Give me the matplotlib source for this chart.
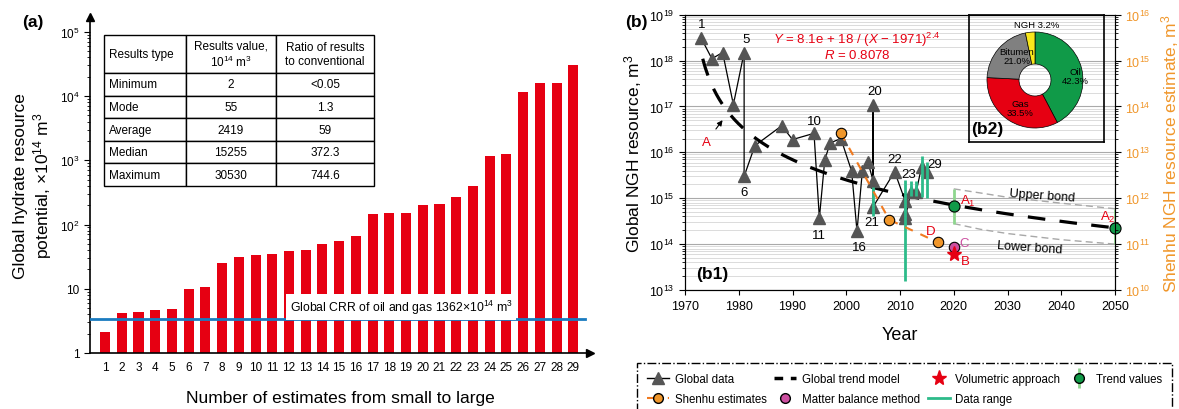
import numpy as np
import matplotlib.pyplot as plt
from matplotlib.lines import Line2D
from matplotlib.ticker import FixedLocator, NullFormatter, LogLocator

plt.rcParams['font.family'] = ['Liberation Sans', 'DejaVu Sans']
plt.rcParams['mathtext.fontset'] = 'custom'
plt.rcParams['mathtext.rm'] = 'Liberation Sans'
plt.rcParams['mathtext.it'] = 'Liberation Sans:italic'
plt.rcParams['mathtext.bf'] = 'Liberation Sans:bold'

# ---------------- data, panel (a)
estimate_no = list(range(1, 30))
estimate_val = [2.1, 4.2, 4.4, 4.7, 4.9, 9.8, 10.5, 25, 31, 34, 35, 39, 40, 50, 56, 67,
                148, 150, 150, 200, 210, 265, 400, 1150, 1230, 11500, 15800, 16000, 30530]
crr_level = 3.4
a_yticks = [1, 10, 1e2, 1e3, 1e4, 1e5]
a_yticklabels = ['1', '10', '$10^2$', '$10^3$', '$10^4$', '$10^5$']
table_head = ['Results type', 'Results value,\n$10^{14}$ m$^3$', 'Ratio of results\nto conventional']
table_type = ['Minimum', 'Mode', 'Average', 'Median', 'Maximum']
table_value = ['2', '55', '2419', '15255', '30530']
table_ratio = ['<0.05', '1.3', '59', '372.3', '744.6']

# ---------------- data, panel (b1)
global_year = [1973, 1975, 1977, 1979, 1981, 1981, 1983, 1988, 1990, 1994, 1995, 1996, 1997,
               1999, 2001, 2002, 2003, 2004, 2005, 2005, 2005, 2009, 2011, 2011, 2011, 2012,
               2013, 2014, 2015]
global_val = [3.1e18, 1.1e18, 1.5e18, 1.1e17, 1.5e18, 3.0e15, 1.4e16, 3.8e16, 1.9e16, 2.6e16,
              3.7e14, 6.8e15, 1.6e16, 2.0e16, 3.9e15, 1.9e14, 4.0e15, 6.3e15, 2.4e15, 1.1e17,
              6.5e14, 3.8e15, 8.5e14, 4.5e14, 3.8e14, 1.35e15, 1.35e15, 4.8e15, 3.8e15]
point_labels = {0: '1', 4: '5', 5: '6', 9: '10', 10: '11', 15: '16', 19: '20', 20: '21',
                21: '22', 22: '23', 28: '29'}
label_pos = {0: (1973.1, 6.3e18), 4: (1981.3, 3.0e18), 5: (1981.0, 1.35e15),
             9: (1994.0, 4.8e16), 10: (1995.0, 1.6e14), 15: (2002.4, 8.5e13),
             19: (2005.3, 2.2e17), 20: (2004.8, 3.1e14), 21: (2009.0, 7.2e15),
             22: (2011.6, 3.4e15), 28: (2016.5, 5.6e15)}

# data range bars (year, low, high)
range_year = [2005, 2011, 2012, 2013, 2014, 2015]
range_low = [4.2e14, 1.6e13, 1.1e15, 1.1e15, 1.05e15, 1.0e15]
range_high = [1.75e15, 2.5e15, 2.4e15, 2.4e15, 8.5e15, 6.2e15]

# trend model Y = a / (X - x0)^p
trend_a = 8.1e18
trend_x0 = 1971
trend_p = 2.4
trend_start, trend_end = 1973.3, 2050

tv_year = [2020, 2050]
tv_val = [6.8e14, 2.3e14]
tv_low = [2.8e14, 1.0e14]
tv_high = [1.6e15, 5.9e14]

bond_year = [2020, 2025, 2030, 2040, 2050]
upper_bond = [1.6e15, 1.3e15, 1.05e15, 7.8e14, 5.9e14]
lower_bond = [2.8e14, 2.1e14, 1.7e14, 1.25e14, 1.0e14]

# Shenhu estimates (right axis)
shenhu_year = [1999, 2008, 2017]
shenhu_val = [2.6e13, 3.4e11, 1.1e11]
matter_year, matter_val = 2020, 8.8e10
vol_year, vol_val = 2020, 6.0e10

# ---------------- data, panel (b2)
pie_names = ['Oil', 'Gas', 'Bitumen', 'NGH']
pie_share = [42.3, 33.5, 21.0, 3.2]

red = '#e60012'
orange = '#f0962a'
teal = '#2dbb8a'
lgreen = '#8ed68e'
green = '#109a48'
magenta = '#cc4fa0'

W, H = 1179, 410
fig = plt.figure(figsize=(W / 100, H / 100), dpi=100)

# =============== panel (a)
ax = fig.add_axes([90 / W, 1 - 354 / H, 500 / W, 336 / H])
ax.bar(estimate_no, estimate_val, width=0.6, color=red, zorder=2)
ax.set_yscale('log')
ax.set_ylim(1, 10 ** 5.23)
ax.set_xlim(0.1, 30)
ax.axhline(crr_level, xmin=0, xmax=0.99, color='#1a7bc0', lw=2, zorder=3)
ax.text(12.05, 5.2, 'Global CRR of oil and gas 1362×10$^{14}$ m$^3$', fontsize=8.8,
        va='center', ha='left', zorder=4,
        bbox=dict(facecolor='white', edgecolor='none', pad=2.5))
for s in ['top', 'right']:
    ax.spines[s].set_visible(False)
ax.spines['left'].set_linewidth(1.2)
ax.spines['bottom'].set_linewidth(1.2)
ax.plot(0, 1, '^k', ms=6, transform=ax.transAxes, clip_on=False)
ax.plot(1, 0, '>k', ms=6, transform=ax.transAxes, clip_on=False)
ax.yaxis.set_major_locator(FixedLocator(a_yticks))
ax.set_yticklabels(a_yticklabels)
ax.yaxis.set_minor_locator(LogLocator(subs=np.arange(2, 10)))
ax.yaxis.set_minor_formatter(NullFormatter())
ax.set_xticks(estimate_no)
ax.tick_params(axis='x', length=0, labelsize=8.5, pad=6)
ax.tick_params(axis='y', which='major', length=4, labelsize=8.5)
ax.tick_params(axis='y', which='minor', length=2)
ax.set_xlabel('Number of estimates from small to large', fontsize=12.5, labelpad=12)
ax.set_ylabel('Global hydrate resource\npotential, ×10$^{14}$ m$^3$', fontsize=12.5, labelpad=4)

cells = [[t, v, r] for t, v, r in zip(table_type, table_value, table_ratio)]
tb = ax.table(cellText=cells, colLabels=table_head, cellLoc='center',
              colWidths=[82, 90, 98], bbox=[14 / 500, (354 - 187) / 336, 270 / 500, 151 / 336])
tb.auto_set_font_size(False)
tb.set_fontsize(8.5)
for (r, c), cell in tb.get_celld().items():
    cell.set_linewidth(1.0)
    cell.set_height(38 if r == 0 else 22.6)
    if c == 0:
        cell._loc = 'left'
        cell.get_text().set_ha('left')
        cell.PAD = 0.06
fig.text(33 / W, 1 - 22 / H, '(a)', fontsize=12.5, fontweight='bold', ha='center', va='center')

# =============== panel (b1)
bx = fig.add_axes([685 / W, 1 - 291 / H, 430 / W, 275.3 / H])
bx.set_yscale('log')
bx.set_ylim(1e13, 1e19)
bx.set_xlim(1970, 2050)
bx.set_xticks(range(1970, 2051, 10))
bx.yaxis.set_major_locator(LogLocator(numticks=10))
bx.yaxis.set_minor_locator(LogLocator(subs=np.arange(2, 10), numticks=20))
bx.yaxis.set_minor_formatter(NullFormatter())
bx.grid(True, axis='y', which='major', color='#aaaaaa', lw=0.8)
bx.grid(True, axis='y', which='minor', color='#d6d6d6', lw=0.6)
bx.set_axisbelow(True)
bx.tick_params(labelsize=9)
bx.tick_params(axis='y', which='major', length=4)
bx.tick_params(axis='y', which='minor', length=2)
bx.set_xlabel('Year', fontsize=13, labelpad=10)
bx.set_ylabel('Global NGH resource, m$^3$', fontsize=12.5, labelpad=4)

ty = np.linspace(trend_start, trend_end, 300)
bx.plot(ty, trend_a / (ty - trend_x0) ** trend_p, color='black', lw=2.3, dashes=(5.5, 4.5), zorder=3)
bx.plot(bond_year, upper_bond, color='#a8a8a8', lw=1, dashes=(5, 3), zorder=2)
bx.plot(bond_year, lower_bond, color='#a8a8a8', lw=1, dashes=(5, 3), zorder=2)
bx.vlines(tv_year, tv_low, tv_high, color=lgreen, lw=2, zorder=3)
bx.plot(global_year, global_val, color='black', lw=0.9, marker='^', ms=8,
        mfc='#555555', mec='#555555', zorder=4)
bx.vlines(range_year, range_low, range_high, color=teal, lw=2, zorder=5)
bx.plot(tv_year, tv_val, 'o', ms=8, mfc=green, mec='black', mew=0.8, zorder=6, clip_on=False)

for i, t in point_labels.items():
    x, y = label_pos[i]
    bx.text(x, y, t, fontsize=9.5, ha='center', va='center')

bx.text(2002, 10 ** 18.47, '$Y$ = 8.1e + 18 / ($X$ − 1971)$^{2.4}$', color=red, fontsize=9.5,
        ha='center', va='center')
bx.text(2002, 10 ** 18.14, '$R$ = 0.8078', color=red, fontsize=9.5, ha='center', va='center')
bx.annotate('A', xy=(1977.3, 10 ** 16.75), xytext=(1973.9, 10 ** 16.22), color=red, fontsize=9.5,
            ha='center', va='center',
            arrowprops=dict(arrowstyle='-|>', color='black', lw=0.8, mutation_scale=8, shrinkA=4))
bx.text(2022.6, 10 ** 14.95, 'A$_1$', color=red, fontsize=9.5, ha='center', va='center')
bx.text(2048.6, 10 ** 14.6, 'A$_2$', color=red, fontsize=9.5, ha='center', va='center')
bx.text(2015.7, 10 ** 14.28, 'D', color=red, fontsize=9.5, ha='center', va='center')
bx.text(2022.0, 10 ** 14.03, 'C', color=magenta, fontsize=9.5, ha='center', va='center')
bx.text(2022.1, 10 ** 13.63, 'B', color=red, fontsize=9.5, ha='center', va='center')
bx.text(2036.4, 10 ** 15.06, 'Upper bond', fontsize=9, ha='center', va='center', rotation=-4)
bx.text(2034.2, 10 ** 13.93, 'Lower bond', fontsize=9, ha='center', va='center', rotation=-4)
bx.text(1975, 10 ** 13.35, '(b1)', fontsize=12.5, fontweight='bold', ha='center', va='center')
fig.text(636 / W, 1 - 22 / H, '(b)', fontsize=12.5, fontweight='bold', ha='center', va='center')

# right axis, Shenhu
rx = bx.twinx()
rx.set_yscale('log')
rx.set_ylim(1e10, 1e16)
rx.yaxis.set_major_locator(LogLocator(numticks=10))
rx.yaxis.set_minor_locator(LogLocator(subs=np.arange(2, 10), numticks=20))
rx.yaxis.set_minor_formatter(NullFormatter())
rx.tick_params(axis='y', which='major', length=4, labelsize=9, labelcolor=orange)
rx.tick_params(axis='y', which='minor', length=2)
rx.set_ylabel('Shenhu NGH resource estimate, m$^3$', fontsize=12.5, color=orange, labelpad=6)
rx.plot(shenhu_year, shenhu_val, color='#f07a20', lw=1.5, dashes=(4, 4), zorder=3)
rx.plot(shenhu_year, shenhu_val, 'o', ms=7.5, mfc=orange, mec='black', mew=0.8, zorder=4)
rx.plot(matter_year, matter_val, 'o', ms=7.5, mfc=magenta, mec='black', mew=0.8, zorder=4)
rx.plot(vol_year, vol_val, '*', ms=11, color=red, zorder=5)

# =============== panel (b2) inset
ix = fig.add_axes([969 / W, 1 - 143 / H, 135 / W, 127 / H])
ix.pie(pie_share, colors=[green, red, '#808080', '#f8e71c'], startangle=90, counterclock=False,
       radius=48, center=(66, 62), frame=True,
       wedgeprops=dict(width=32, edgecolor='black', linewidth=0.5))
ix.set_xlim(0, 135)
ix.set_ylim(0, 127)
ix.set_aspect('auto')
ix.set_xticks([])
ix.set_yticks([])
ix.patch.set_alpha(0)
for s in ix.spines.values():
    s.set_linewidth(1.2)
pie_text = [(106, 66), (51, 34), (48, 86)]
for (x, y), n, v in zip(pie_text, pie_names[:3], pie_share[:3]):
    ix.text(x, y, f'{n}\n{v:.1f}%', fontsize=6.8, ha='center', va='center', linespacing=1.0)
ix.text(68, 117, f'{pie_names[3]} {pie_share[3]:.1f}%', fontsize=6.8, ha='center', va='center')
ix.text(18, 13, '(b2)', fontsize=12.5, fontweight='bold', ha='center', va='center')

# =============== legend
h_global = Line2D([], [], color='black', lw=1, marker='^', ms=8, mfc='#555555', mec='#555555')
h_trend = Line2D([], [], color='black', lw=2.5, dashes=(2.5, 2.2))
h_vol = Line2D([], [], ls='none', marker='*', ms=11, color=red)
h_tv = (Line2D([], [], ls='none', marker='|', ms=14, mew=2, color=lgreen),
        Line2D([], [], ls='none', marker='o', ms=7, mfc=green, mec='black'))
h_shenhu = Line2D([], [], color='#f07a20', lw=1.5, dashes=(3, 2), marker='o', ms=7,
                  mfc=orange, mec='black')
h_mb = Line2D([], [], ls='none', marker='o', ms=7, mfc=magenta, mec='black')
h_range = Line2D([], [], color=teal, lw=2)
leg = fig.legend([h_global, h_shenhu, h_trend, h_mb, h_vol, h_range, h_tv],
                 ['Global data', 'Shenhu estimates', 'Global trend model', 'Matter balance method',
                  'Volumetric approach', 'Data range', 'Trend values'],
                 loc='upper left', bbox_to_anchor=(637 / W, 0, 535 / W, 1 - 364 / H),
                 mode='expand', borderaxespad=0, borderpad=0.9,
                 ncol=4, fontsize=8.3, handlelength=1.9, handletextpad=0.5, columnspacing=0.5,
                 labelspacing=0.7, fancybox=False, edgecolor='black', framealpha=1)
leg.get_frame().set_linestyle('-.')
leg.get_frame().set_linewidth(1.0)

fig.savefig('out.png', dpi=100)
